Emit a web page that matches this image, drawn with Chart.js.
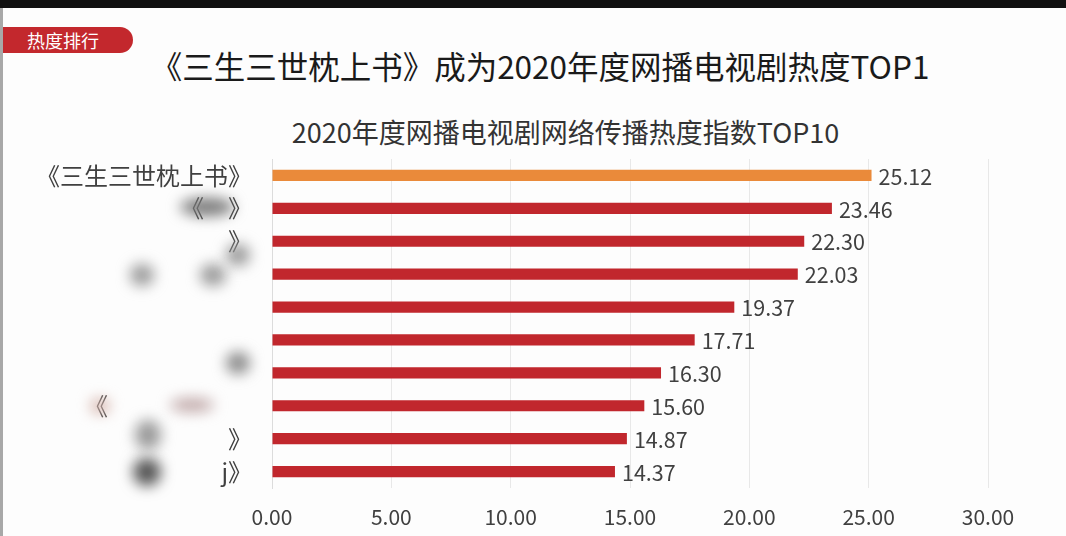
<!DOCTYPE html>
<html>
<head>
<meta charset="utf-8">
<script src="https://cdn.jsdelivr.net/npm/chart.js@4.4.1/dist/chart.umd.min.js"></script>
<style>
  html, body { margin: 0; padding: 0; background: #fdfdfd; }
  body { width: 1066px; height: 536px; position: relative; overflow: hidden;
         font-family: "Noto Sans CJK SC", "Noto Sans", sans-serif; }
  #topbar { position: absolute; left: 0; top: 0; width: 1066px; height: 8px; background: #111; }
  #leftline { position: absolute; left: 0; top: 8px; width: 3px; height: 528px; background: #a8a8a8; }
  #tag { position: absolute; left: 3px; top: 27px; width: 130px; height: 26px; background: #c3282d;
         border-radius: 0 13px 13px 0; color: #fff; font-size: 18px; line-height: 26px; padding-left: 24px;
         box-sizing: border-box; }
  #title { position: absolute; left: 0; top: 42px; width: 1080px; text-align: center;
           font-size: 31.5px; color: #1a1a1a; line-height: 46px; }
  #sub { position: absolute; left: 0; top: 113px; width: 1131px; text-align: center;
         font-size: 27px; color: #333; line-height: 38px; }
  .blob { position: absolute; border-radius: 50%; filter: blur(7px); }
  canvas { position: absolute; left: 0; top: 0; }
</style>
</head>
<body>
<div id="topbar"></div>
<div id="leftline"></div>
<div id="tag">热度排行</div>
<div id="title">《三生三世枕上书》成为2020年度网播电视剧热度TOP1</div>
<div id="sub">2020年度网播电视剧网络传播热度指数TOP10</div>
<canvas id="chart" width="1066" height="536"></canvas>
<!-- blurred (hidden) title area, as in the screenshot -->
<div class="blob" style="left:180px;top:198px;width:54px;height:18px;background:#777;"></div>
<div class="blob" style="left:130px;top:264px;width:24px;height:22px;background:#999;"></div>
<div class="blob" style="left:200px;top:264px;width:26px;height:22px;background:#999;"></div>
<div class="blob" style="left:226px;top:244px;width:24px;height:22px;background:#999;"></div>
<div class="blob" style="left:226px;top:352px;width:24px;height:22px;background:#888;"></div>
<div class="blob" style="left:90px;top:398px;width:20px;height:16px;background:#d8b8b0;"></div>
<div class="blob" style="left:170px;top:398px;width:44px;height:14px;background:#c0a8a8;"></div>
<div class="blob" style="left:135px;top:420px;width:26px;height:30px;background:#999;"></div>
<div class="blob" style="left:133px;top:458px;width:28px;height:28px;background:#555;"></div>
<script>
// data
const dramas = ["《三生三世枕上书》", "《　》", "》", "", "", "", "", "《　　　　　　", "》", "　　　　j》"];
const heatIndex = [25.12, 23.46, 22.30, 22.03, 19.37, 17.71, 16.30, 15.60, 14.87, 14.37];
const xTicks = [0, 5, 10, 15, 20, 25, 30];

const ORANGE = "#ea8a3a";
const RED = "#c1272d";
const TEXT = "#404040";
const FONT = '"Noto Sans CJK SC", "Noto Sans", sans-serif';

// draw the value at the end of each bar
const valueLabels = {
    id: "valueLabels",
    afterDatasetsDraw(chart) {
        const ctx = chart.ctx;
        const meta = chart.getDatasetMeta(0);
        ctx.save();
        ctx.font = "21.5px " + FONT;
        ctx.fillStyle = TEXT;
        ctx.textAlign = "left";
        ctx.textBaseline = "middle";
        meta.data.forEach((bar, i) => {
            ctx.fillText(heatIndex[i].toFixed(2), bar.x + 7, bar.y + 1);
        });
        ctx.restore();
    }
};

const ctx = document.getElementById("chart").getContext("2d");
new Chart(ctx, {
    type: "bar",
    data: {
        labels: dramas,
        datasets: [{
            data: heatIndex,
            backgroundColor: heatIndex.map((v, i) => i === 0 ? ORANGE : RED),
            barPercentage: 0.34,
            categoryPercentage: 1,
            borderWidth: 0
        }]
    },
    options: {
        indexAxis: "y",
        responsive: false,
        animation: false,
        layout: { padding: { top: 159, bottom: 8, right: 78, left: 0 } },
        plugins: { legend: { display: false }, tooltip: { enabled: false } },
        scales: {
            x: {
                min: 0,
                max: 30,
                afterBuildTicks: (scale) => { scale.ticks = xTicks.map(v => ({ value: v })); },
                afterFit: (scale) => { scale.height = 40; },
                grid: { color: "#e8e8e8", drawTicks: false, lineWidth: 1 },
                border: { display: false },
                ticks: {
                    padding: 16,
                    color: TEXT,
                    font: { size: 21, family: FONT },
                    callback: (v) => Number(v).toFixed(2)
                }
            },
            y: {
                afterFit: (scale) => { scale.width = 272; },
                grid: { display: false, drawTicks: false },
                border: { display: true, color: "#dcdcdc" },
                ticks: {
                    padding: 20,
                    color: TEXT,
                    font: { size: 24, family: FONT }
                }
            }
        }
    },
    plugins: [valueLabels]
});
</script>
</body>
</html>
